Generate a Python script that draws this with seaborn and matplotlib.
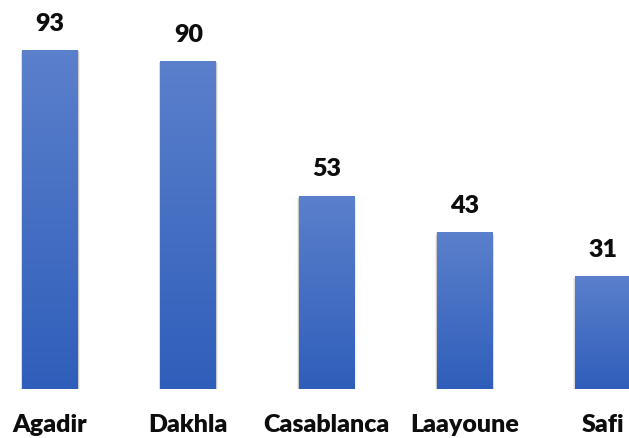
import matplotlib
matplotlib.use("Agg")
import matplotlib.pyplot as plt
import seaborn as sns
import numpy as np
import pandas as pd
from matplotlib.colors import LinearSegmentedColormap
from matplotlib.patches import Rectangle

cities = ["Agadir", "Dakhla", "Casablanca", "Laayoune", "Safi"]
values = [93, 90, 53, 43, 31]

sns.set_theme(style="white")
plt.rcParams['font.family'] = ['Lato', 'DejaVu Sans']

W, H = 629, 438
fig = plt.figure(figsize=(W / 100, H / 100), dpi=100)
base_px = 389
ax = fig.add_axes([0, (H - base_px) / H, 1, base_px / H])

df = pd.DataFrame({"city": cities, "value": values})
sns.barplot(data=df, x="city", y="value", ax=ax, width=0.405, color="#4a72c4",
            saturation=1, edgecolor="none")

ax.set_xlim(-0.362, 4.188)
ax.set_ylim(0, 106.7)
ax.axis("off")

cmap = LinearSegmentedColormap.from_list("g", ["#2f5eba", "#5b80cc"])
grad = np.linspace(0, 1, 256).reshape(-1, 1)
for p in list(ax.patches):
    x0, w, h = p.get_x(), p.get_width(), p.get_height()
    # soft shadow layers
    for k, a in [(0.022, 0.10), (0.014, 0.14), (0.007, 0.18)]:
        sh = Rectangle((x0 - k * 0.5, -k * 40), w + k, h + k * 10, facecolor="#707070",
                       alpha=a, edgecolor="none", zorder=1)
        ax.add_patch(sh)
    im = ax.imshow(grad, cmap=cmap, origin="lower", aspect="auto",
                   extent=[x0, x0 + w, 0, h], zorder=2)
    im.set_clip_path(p)
    p.set_zorder(2)

for i, (c, v) in enumerate(zip(cities, values)):
    ax.text(i, v + 4.2, str(v), ha="center", va="bottom", fontsize=18,
            fontweight="heavy", color="#0d0d0d", clip_on=False)
    ax.text(i, -9.8, c, ha="center", va="center", fontsize=18,
            fontweight="heavy", color="#0d0d0d", clip_on=False)

fig.savefig("out.png", dpi=100)
